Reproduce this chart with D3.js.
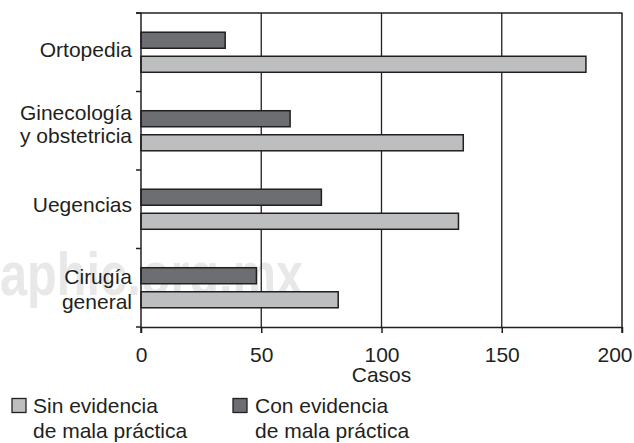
<!DOCTYPE html>
<html>
<head>
<meta charset="utf-8">
<script src="https://cdn.jsdelivr.net/npm/d3@7"></script>
<style>
  html, body { margin: 0; padding: 0; background: #fff; }
  svg { display: block; }
  svg text { font-family: Arial, "Liberation Sans", Helvetica, sans-serif; fill: #231f20; }
</style>
</head>
<body>
<svg id="chart" width="634" height="443"></svg>
<script>
// Categories (top to bottom) and their label lines
const categories = ["Ortopedia", "Ginecología y obstetricia", "Uegencias", "Cirugía general"];
const categoryLines = [["Ortopedia"], ["Ginecología", "y obstetricia"], ["Uegencias"], ["Cirugía", "general"]];

// Series values (cases)
const conEvidencia = [35, 62, 75, 48];
const sinEvidencia = [185, 134, 132, 82];

const seriesKeys = ["con", "sin"];
const seriesNames = {
  sin: ["Sin evidencia", "de mala práctica"],
  con: ["Con evidencia", "de mala práctica"]
};
const xTicks = [0, 50, 100, 150, 200];
const xTitle = "Casos";

// Styling
const colors = { sin: "#bcbec0", con: "#6d6e71" };
const ink = "#231f20";
const fontSize = 21;
const fontFamily = "Arial, 'Liberation Sans', Helvetica, sans-serif";

const svg = d3.select("#chart");
const plotLeft = 141, plotRight = 622, plotTop = 13, plotBottom = 327;

// Faint site watermark behind the chart
svg.append("text")
  .attr("x", 0).attr("y", 295)
  .attr("textLength", 303)
  .attr("lengthAdjust", "spacingAndGlyphs")
  .style("font-family", fontFamily)
  .style("font-size", "62px")
  .style("font-weight", "bold")
  .style("fill", "#e8e8e8")
  .text("aphic.org.mx");

const x = d3.scaleLinear().domain([0, 200]).range([plotLeft, plotRight]);
const y0 = d3.scaleBand().domain(categories).range([plotTop, plotBottom]).padding(0);
const y1 = d3.scaleBand().domain(seriesKeys).range([0, y0.bandwidth()])
  .paddingInner(1 / 3).paddingOuter(0.8);

const rows = categories.map((c, i) => ({ cat: c, con: conEvidencia[i], sin: sinEvidencia[i] }));

// Vertical gridlines
svg.append("g").selectAll("line")
  .data(xTicks.slice(1, -1))
  .join("line")
  .attr("x1", d => x(d)).attr("x2", d => x(d))
  .attr("y1", plotTop).attr("y2", plotBottom)
  .attr("stroke", ink).attr("stroke-width", 1.3);

// Frame: top and right edges
svg.append("line").attr("x1", plotLeft - 5).attr("x2", plotRight + 0.5).attr("y1", plotTop).attr("y2", plotTop)
  .attr("stroke", ink).attr("stroke-width", 1.5);
svg.append("line").attr("x1", plotRight).attr("x2", plotRight).attr("y1", plotTop).attr("y2", plotBottom + 6)
  .attr("stroke", ink).attr("stroke-width", 1.5);

// Bars
const groups = svg.append("g").selectAll("g")
  .data(rows).join("g")
  .attr("transform", d => `translate(0,${y0(d.cat)})`);
groups.selectAll("rect")
  .data(d => seriesKeys.map(k => ({ key: k, value: d[k] })))
  .join("rect")
  .attr("x", x(0))
  .attr("y", d => y1(d.key))
  .attr("width", d => x(d.value) - x(0))
  .attr("height", y1.bandwidth())
  .attr("fill", d => colors[d.key])
  .attr("stroke", ink).attr("stroke-width", 1.5);

// X axis
const xAxis = svg.append("g")
  .attr("transform", `translate(0,${plotBottom})`)
  .call(d3.axisBottom(x).tickValues(xTicks).tickSizeInner(6).tickSizeOuter(0));
xAxis.attr("font-family", null).attr("font-size", null);
xAxis.select(".domain").attr("stroke", ink).attr("stroke-width", 1.5);
xAxis.selectAll(".tick line").attr("stroke", ink).attr("stroke-width", 1.5);
xAxis.selectAll(".tick text")
  .attr("y", 35).attr("dy", 0)
  .style("font-size", fontSize + "px")
  .style("font-family", fontFamily)
  .attr("fill", ink);
// keep the last tick label inside the page
xAxis.selectAll(".tick text").filter(d => d === xTicks[xTicks.length - 1])
  .attr("text-anchor", "end").attr("x", 632 - x(xTicks[xTicks.length - 1]));

svg.append("text")
  .attr("x", (plotLeft + plotRight) / 2).attr("y", 382)
  .attr("text-anchor", "middle")
  .style("font-family", fontFamily)
  .style("font-size", fontSize + "px")
  .text(xTitle);

// Y axis line with ticks at category boundaries
svg.append("line").attr("x1", plotLeft).attr("x2", plotLeft).attr("y1", plotTop).attr("y2", plotBottom + 6)
  .attr("stroke", ink).attr("stroke-width", 1.5);
svg.append("g").selectAll("line")
  .data(d3.range(categories.length + 1))
  .join("line")
  .attr("x1", plotLeft - 5).attr("x2", plotLeft)
  .attr("y1", i => y0.range()[0] + i * y0.step())
  .attr("y2", i => y0.range()[0] + i * y0.step())
  .attr("stroke", ink).attr("stroke-width", 1.5);

// Category labels (baseline offsets from each band's top)
const labelOffsets = [[43.7], [28.5, 51.5], [41.7], [35.5, 60.5]];
categories.forEach((c, i) => {
  categoryLines[i].forEach((line, j) => {
    svg.append("text")
      .attr("x", 132)
      .attr("y", y0(c) + labelOffsets[i][j])
      .attr("text-anchor", "end")
      .style("font-family", fontFamily)
      .style("font-size", fontSize + "px")
      .text(line);
  });
});

// Legend
const legendItems = [
  { key: "sin", bx: 12, tx: 33 },
  { key: "con", bx: 233, tx: 255 }
];
const lg = svg.append("g");
legendItems.forEach(it => {
  lg.append("rect")
    .attr("x", it.bx).attr("y", 398.5)
    .attr("width", 14).attr("height", 14)
    .attr("fill", colors[it.key])
    .attr("stroke", ink).attr("stroke-width", 1.3);
  const t = lg.append("text")
    .style("font-family", fontFamily)
    .style("font-size", fontSize + "px");
  seriesNames[it.key].forEach((line, j) => {
    t.append("tspan").attr("x", it.tx).attr("y", 413 + j * 25).text(line);
  });
});
</script>
</body>
</html>
